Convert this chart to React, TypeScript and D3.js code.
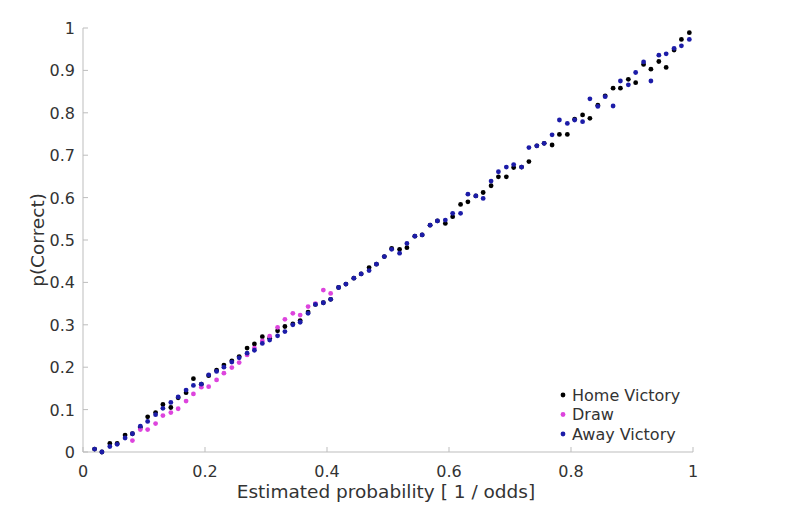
import React from 'react';
import * as d3 from 'd3';

// bin centres of estimated probability
const binX = [
  0.019, 0.031, 0.044, 0.056, 0.069, 0.081, 0.094, 0.106, 0.119, 0.131,
  0.144, 0.156, 0.169, 0.181, 0.194, 0.206, 0.219, 0.231, 0.244, 0.256,
  0.269, 0.281, 0.294, 0.306, 0.319, 0.331, 0.344, 0.356, 0.369, 0.381,
  0.394, 0.406, 0.419, 0.431, 0.444, 0.456, 0.469, 0.481, 0.494, 0.506,
  0.519, 0.531, 0.544, 0.556, 0.569, 0.581, 0.594, 0.606, 0.619, 0.631,
  0.644, 0.656, 0.669, 0.681, 0.694, 0.706, 0.719, 0.731, 0.744, 0.756,
  0.769, 0.781, 0.794, 0.806, 0.819, 0.831, 0.844, 0.856, 0.869, 0.881,
  0.894, 0.906, 0.919, 0.931, 0.944, 0.956, 0.969, 0.981, 0.994,
];

const homeY = [
  0.007, 0.0, 0.02, 0.02, 0.04, 0.043, 0.058, 0.083, 0.093, 0.112,
  0.105, 0.128, 0.14, 0.173, 0.16, 0.18, 0.193, 0.205, 0.215, 0.225,
  0.245, 0.255, 0.272, 0.268, 0.286, 0.296, 0.302, 0.31, 0.33, 0.348,
  0.352, 0.36, 0.388, 0.396, 0.41, 0.42, 0.435, 0.443, 0.461, 0.48,
  0.478, 0.482, 0.509, 0.512, 0.535, 0.545, 0.539, 0.555, 0.584, 0.59,
  0.604, 0.612, 0.628, 0.649, 0.649, 0.671, 0.672, 0.685, 0.722, 0.728,
  0.724, 0.749, 0.749, 0.785, 0.795, 0.787, 0.818, 0.84, 0.858, 0.858,
  0.879, 0.871, 0.914, 0.903, 0.921, 0.907, 0.948, 0.973, 0.989,
];

const awayY = [
  0.007, 0.0, 0.013, 0.018, 0.033, 0.043, 0.061, 0.072, 0.088, 0.103,
  0.117, 0.13, 0.146, 0.157, 0.16, 0.182, 0.19, 0.2, 0.212, 0.222,
  0.233, 0.24, 0.256, 0.264, 0.274, 0.284, 0.3, 0.306, 0.327, 0.348,
  0.352, 0.36, 0.388, 0.396, 0.41, 0.42, 0.428, 0.443, 0.461, 0.478,
  0.469, 0.492, 0.509, 0.512, 0.535, 0.545, 0.547, 0.563, 0.563, 0.608,
  0.604, 0.598, 0.639, 0.661, 0.672, 0.678, 0.672, 0.718, 0.722, 0.728,
  0.748, 0.783, 0.775, 0.783, 0.779, 0.833, 0.815, 0.838, 0.816, 0.875,
  0.866, 0.895, 0.92, 0.875, 0.936, 0.939, 0.952, 0.958, 0.973,
];

const drawX = [
  0.081, 0.094, 0.106, 0.119, 0.131, 0.144, 0.156, 0.169, 0.181, 0.194,
  0.206, 0.219, 0.231, 0.244, 0.256, 0.269, 0.281, 0.294, 0.306, 0.319,
  0.331, 0.344, 0.356, 0.369, 0.381, 0.394, 0.406,
];
const drawY = [
  0.027, 0.053, 0.053, 0.067, 0.086, 0.093, 0.102, 0.12, 0.137, 0.153,
  0.154, 0.17, 0.186, 0.199, 0.211, 0.229, 0.245, 0.262, 0.273, 0.294,
  0.313, 0.327, 0.323, 0.343, 0.35, 0.382, 0.374,
];

const xTicks = [0, 0.2, 0.4, 0.6, 0.8, 1];
const yTicks = [0, 0.1, 0.2, 0.3, 0.4, 0.5, 0.6, 0.7, 0.8, 0.9, 1];

const seriesNames = ['Home Victory', 'Draw', 'Away Victory'];
const seriesColors = ['#000000', '#dd44dd', '#1c1ca8'];

const W = 800;
const H = 508;
const margin = { top: 28, right: 110, bottom: 56, left: 83 };
const font = 'DejaVu Sans, sans-serif';
const textColor = '#333333';
const axisColor = '#bdbdbd';

const App: React.FC = () => {
  const x = d3.scaleLinear().domain([0, 1]).range([margin.left, W - margin.right + 3]);
  const y = d3.scaleLinear().domain([0, 1]).range([H - margin.bottom, margin.top]);

  const series = [
    binX.map((v, i) => [v, homeY[i]]),
    drawX.map((v, i) => [v, drawY[i]]),
    binX.map((v, i) => [v, awayY[i]]),
  ];
  const x0 = x(0);
  const x1 = x(1);
  const y0 = y(0);
  const y1 = y(1);

  return (
    <svg width={W} height={H} style={{ position: 'absolute', left: 0, top: 0, background: '#fff' }}>
      {/* axes */}
      <line x1={x0} x2={x1} y1={y0} y2={y0} stroke={axisColor} strokeWidth={1} />
      <line x1={x0} x2={x0} y1={y0} y2={y1} stroke={axisColor} strokeWidth={1} />
      {xTicks.map((t) => (
        <g key={'xt' + t}>
          <line x1={x(t)} x2={x(t)} y1={y0} y2={y0 - 5} stroke={axisColor} />
          <text x={x(t)} y={y0 + 25} textAnchor="middle" fontFamily={font} fontSize={16} fill={textColor}>
            {d3.format('~g')(t)}
          </text>
        </g>
      ))}
      {yTicks.map((t) => (
        <g key={'yt' + t}>
          <line x1={x0} x2={x0 + 5} y1={y(t)} y2={y(t)} stroke={axisColor} />
          <text x={x0 - 8} y={y(t) + 6} textAnchor="end" fontFamily={font} fontSize={16} fill={textColor}>
            {d3.format('~g')(t)}
          </text>
        </g>
      ))}
      <text x={(x0 + x1) / 2 - 2} y={y0 + 46} textAnchor="middle" fontFamily={font} fontSize={18.5} fill={textColor}>
        Estimated probability [ 1 / odds]
      </text>
      <text
        transform={`translate(${x0 - 39},${(y0 + y1) / 2}) rotate(-90)`}
        textAnchor="middle"
        fontFamily={font}
        fontSize={18.5}
        fill={textColor}
      >
        p(Correct)
      </text>

      {/* points */}
      {series.map((pts, si) => (
        <g key={'s' + si} fill={seriesColors[si]}>
          {pts.map((p, i) => (
            <circle key={i} cx={x(p[0])} cy={y(p[1])} r={2.4} />
          ))}
        </g>
      ))}

      {/* legend */}
      {seriesNames.map((name, i) => (
        <g key={'lg' + i} transform={`translate(563,${395 + i * 19.5})`}>
          <circle cx={0} cy={0} r={2.4} fill={seriesColors[i]} />
          <text x={9} y={5.5} fontFamily={font} fontSize={16} fill={textColor}>
            {name}
          </text>
        </g>
      ))}
    </svg>
  );
};

export default App;
